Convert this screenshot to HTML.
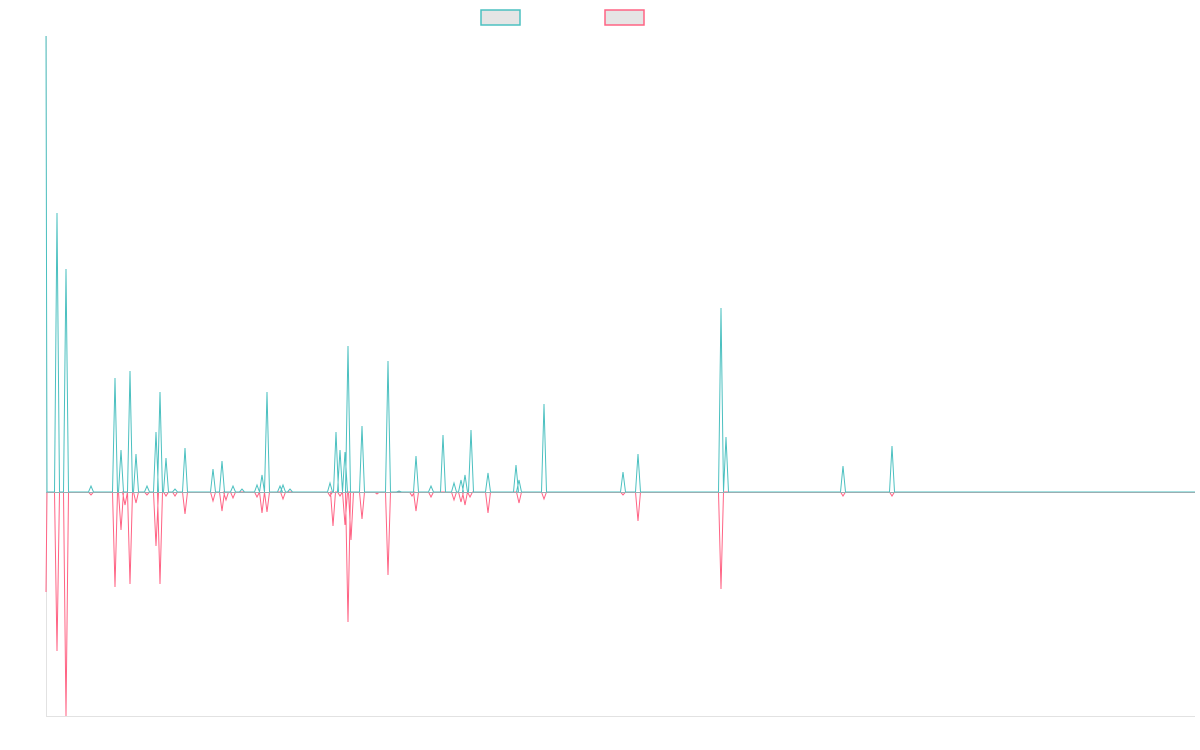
<!DOCTYPE html>
<html><head><meta charset="utf-8"><style>
html,body{margin:0;padding:0;background:#fff;width:1200px;height:750px;overflow:hidden}
</style></head><body>
<svg id="s" width="1200" height="750" xmlns="http://www.w3.org/2000/svg">
<rect x="481" y="10" width="39" height="15" fill="#e5e5e5" stroke="#4bc0c0" stroke-width="1.5"/>
<rect x="605" y="10" width="39" height="15" fill="#e5e5e5" stroke="#ff6384" stroke-width="1.5"/>
<line x1="46.5" y1="36" x2="46.5" y2="716" stroke="#e2e2e2"/>
<line x1="46" y1="716.5" x2="1195" y2="716.5" stroke="#e2e2e2"/>
<path id="pk" fill="none" stroke="#ff6384" stroke-width="1"/>
<path id="tl" fill="none" stroke="#4bc0c0" stroke-width="1"/>
<line x1="46" y1="492.5" x2="1195" y2="492.5" stroke="#9aaeb2" stroke-width="1"/>
</svg>
<script>
var T=[[57,213],[66,269],[91,486],[115,378],[121,450],[130,371],[136,454],[147,486],[156,432],[160,392],[166,458],[175,489],[185,448],[213,469],[222,461],[233,486],[242,489],[257,485],[262,475],[267,392],[280,486],[283,485],[290,489],[330,483],[336,432],[340,450],[345,452],[348,346],[362,426],[388,361],[399,491],[416,456],[431,486],[443,435],[454,483],[461,480],[465,475],[471,430],[488,473],[516,465],[519,480],[544,404],[623,472],[638,454],[721,308],[726,437],[843,466],[892,446]];
var P=[[57,651],[66,716],[91,495],[115,587],[121,530],[125,505],[130,584],[136,503],[147,495],[156,546],[160,584],[166,496],[175,496],[185,514],[213,501],[222,511],[226,500],[233,498],[257,497],[262,513],[267,512],[283,499],[330,496],[333,526],[340,496],[345,525],[348,622],[351,540],[362,519],[377,494],[388,575],[412,496],[416,511],[431,497],[454,500],[461,502],[465,505],[470,497],[488,513],[519,503],[544,499],[623,495],[638,521],[721,589],[843,496],[892,496]];
function build(arr,start){var d="M46,"+start+" L47,492 ";arr.forEach(function(p){d+="L"+(p[0]-2.5)+",492 L"+p[0]+","+p[1]+" L"+(p[0]+2.5)+",492 ";});d+="L1195,492";return d;}
document.getElementById('tl').setAttribute('d',build(T,36));
document.getElementById('pk').setAttribute('d',build(P,592));
</script>
</body></html>
